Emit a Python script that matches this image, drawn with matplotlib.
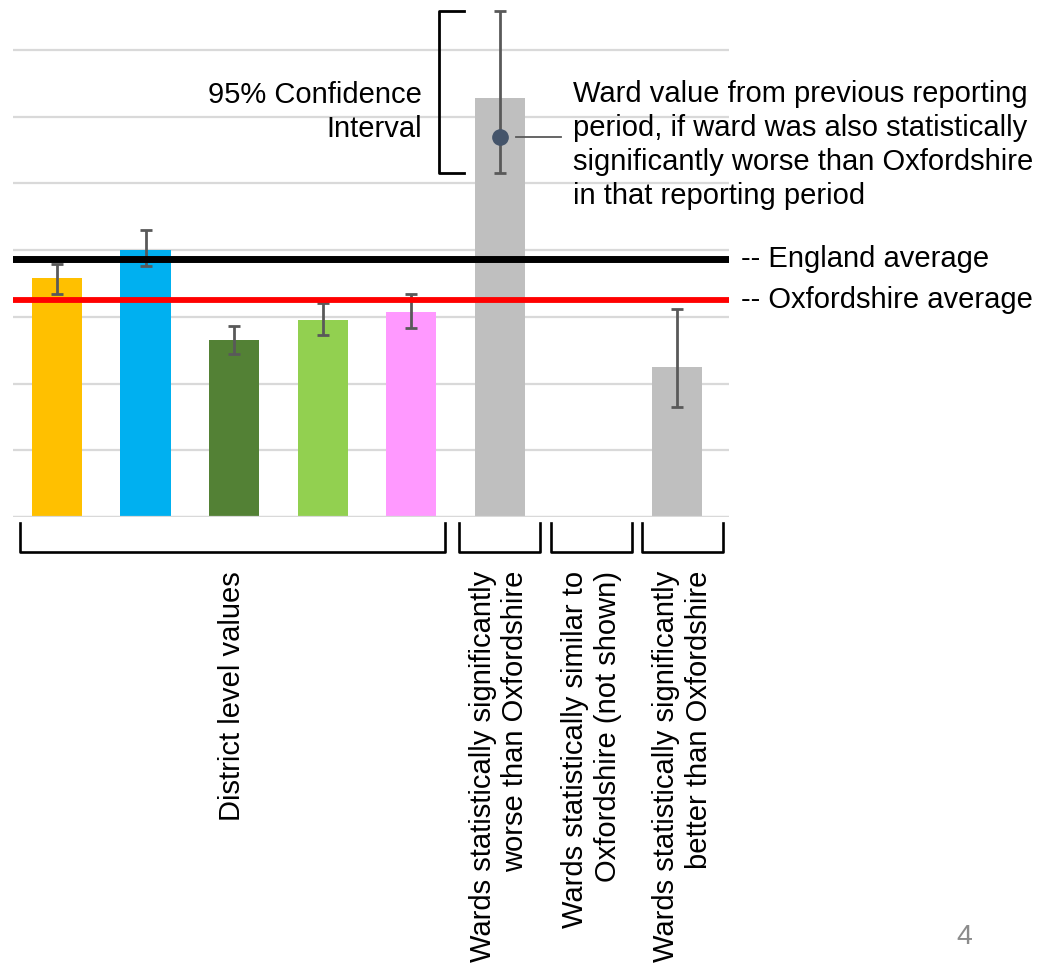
import matplotlib
matplotlib.use("Agg")
import matplotlib.pyplot as plt
import numpy as np
from matplotlib.transforms import blended_transform_factory

plt.rcParams['font.family'] = ['Liberation Sans', 'DejaVu Sans']

# ---- data ----
categories = ["District 1", "District 2", "District 3", "District 4", "District 5",
              "Ward worse", "Ward similar", "Ward better"]
values = [3.58, 4.00, 2.66, 2.95, 3.08, 6.28, np.nan, 2.25]
ci_low = [3.35, 3.76, 2.45, 2.73, 2.83, 5.15, np.nan, 1.645]
ci_high = [3.80, 4.30, 2.87, 3.21, 3.34, 7.58, np.nan, 3.12]
bar_colors = ["#FFC000", "#00B0F0", "#538135", "#92D050", "#FF99FF",
              "#BFBFBF", "#BFBFBF", "#BFBFBF"]
england_avg = 3.87
oxfordshire_avg = 3.25
previous_value = 5.70
previous_index = 5

group_labels = ["District level values",
                "Wards statistically significantly\nworse than Oxfordshire",
                "Wards statistically similar to\nOxfordshire (not shown)",
                "Wards statistically significantly\nbetter than Oxfordshire"]
group_spans = [(-0.42, 4.38), (4.54, 5.45), (5.58, 6.49), (6.61, 7.52)]

ci_label = "95% Confidence\nInterval"
prev_label = ("Ward value from previous reporting\nperiod, if ward was also statistically\n"
              "significantly worse than Oxfordshire\nin that reporting period")
england_label = "-- England average"
oxon_label = "-- Oxfordshire average"
page_number = "4"

# ---- figure ----
W, H = 1039, 967
fig = plt.figure(figsize=(W / 100, H / 100), dpi=100)
ax = fig.add_axes([12.7 / W, 1 - 517 / H, (729 - 12.7) / W, 517 / H])
ax.set_xlim(-0.5, 7.59)
ax.set_ylim(0, 7.75)

x = np.arange(len(categories))
vals = np.array(values, dtype=float)
lo = np.array(ci_low, dtype=float)
hi = np.array(ci_high, dtype=float)
mask = ~np.isnan(vals)

ax.bar(x[mask], vals[mask], width=0.565,
       color=[c for c, m in zip(bar_colors, mask) if m], zorder=2)
ax.errorbar(x[mask], vals[mask], yerr=[vals[mask] - lo[mask], hi[mask] - vals[mask]],
            fmt='none', ecolor='#595959', elinewidth=2, capsize=4.6, capthick=2, zorder=3)

ax.axhline(england_avg, color='black', lw=5, zorder=5)
ax.axhline(oxfordshire_avg, color='#FF0000', lw=4.2, zorder=5)
ax.axhline(0, color='#D9D9D9', lw=1.6, zorder=2.5)

# previous value point and leader line
ax.plot([previous_index], [previous_value], 'o', color='#44546A', markersize=11, zorder=6)
ax.plot([previous_index + 0.18, previous_index + 0.69], [previous_value, previous_value],
        color='#595959', lw=1.3, zorder=6, clip_on=False)

# CI bracket
bx0, bx1 = previous_index - 0.68, previous_index - 0.40
ax.plot([bx1, bx0, bx0, bx1], [hi[previous_index], hi[previous_index],
                               lo[previous_index], lo[previous_index]],
        color='black', lw=2, clip_on=False, zorder=6)

ax.set_yticks(np.arange(0, 8))
ax.yaxis.grid(True, color='#D9D9D9', lw=1.6)
ax.set_axisbelow(True)
ax.tick_params(left=False, bottom=False, labelleft=False, labelbottom=False)
for s in ax.spines.values():
    s.set_visible(False)

fs = 21
# annotations
fig.text(422 / W, 1 - 81 / H, ci_label, ha='right', va='top', fontsize=fs,
         linespacing=1.27, multialignment='right')
fig.text(573 / W, 1 - 80 / H, prev_label, ha='left', va='top', fontsize=fs,
         linespacing=1.27)

tr_fy = blended_transform_factory(fig.transFigure, ax.transData)
fig.text(741 / W, england_avg, england_label, transform=tr_fy, ha='left', va='center',
         fontsize=fs)
fig.text(741 / W, oxfordshire_avg, oxon_label, transform=tr_fy, ha='left', va='center',
         fontsize=fs)

# group brackets and labels
tr_xf = blended_transform_factory(ax.transData, fig.transFigure)
yt, yb = 1 - 523 / H, 1 - 552 / H
for (a, b), lab in zip(group_spans, group_labels):
    ax.plot([a, a, b, b], [yt, yb, yb, yt], transform=tr_xf, color='black', lw=1.9,
            clip_on=False)
    fig.text((a + b) / 2, 1 - 571 / H, lab, transform=tr_xf, rotation=90,
             ha='center', va='top', fontsize=fs, linespacing=1.2, multialignment='right')

fig.text(964 / W, 1 - 937 / H, page_number, ha='center', va='center', fontsize=20.5,
         color='#8C8C8C')

fig.savefig('out.png', dpi=100)
